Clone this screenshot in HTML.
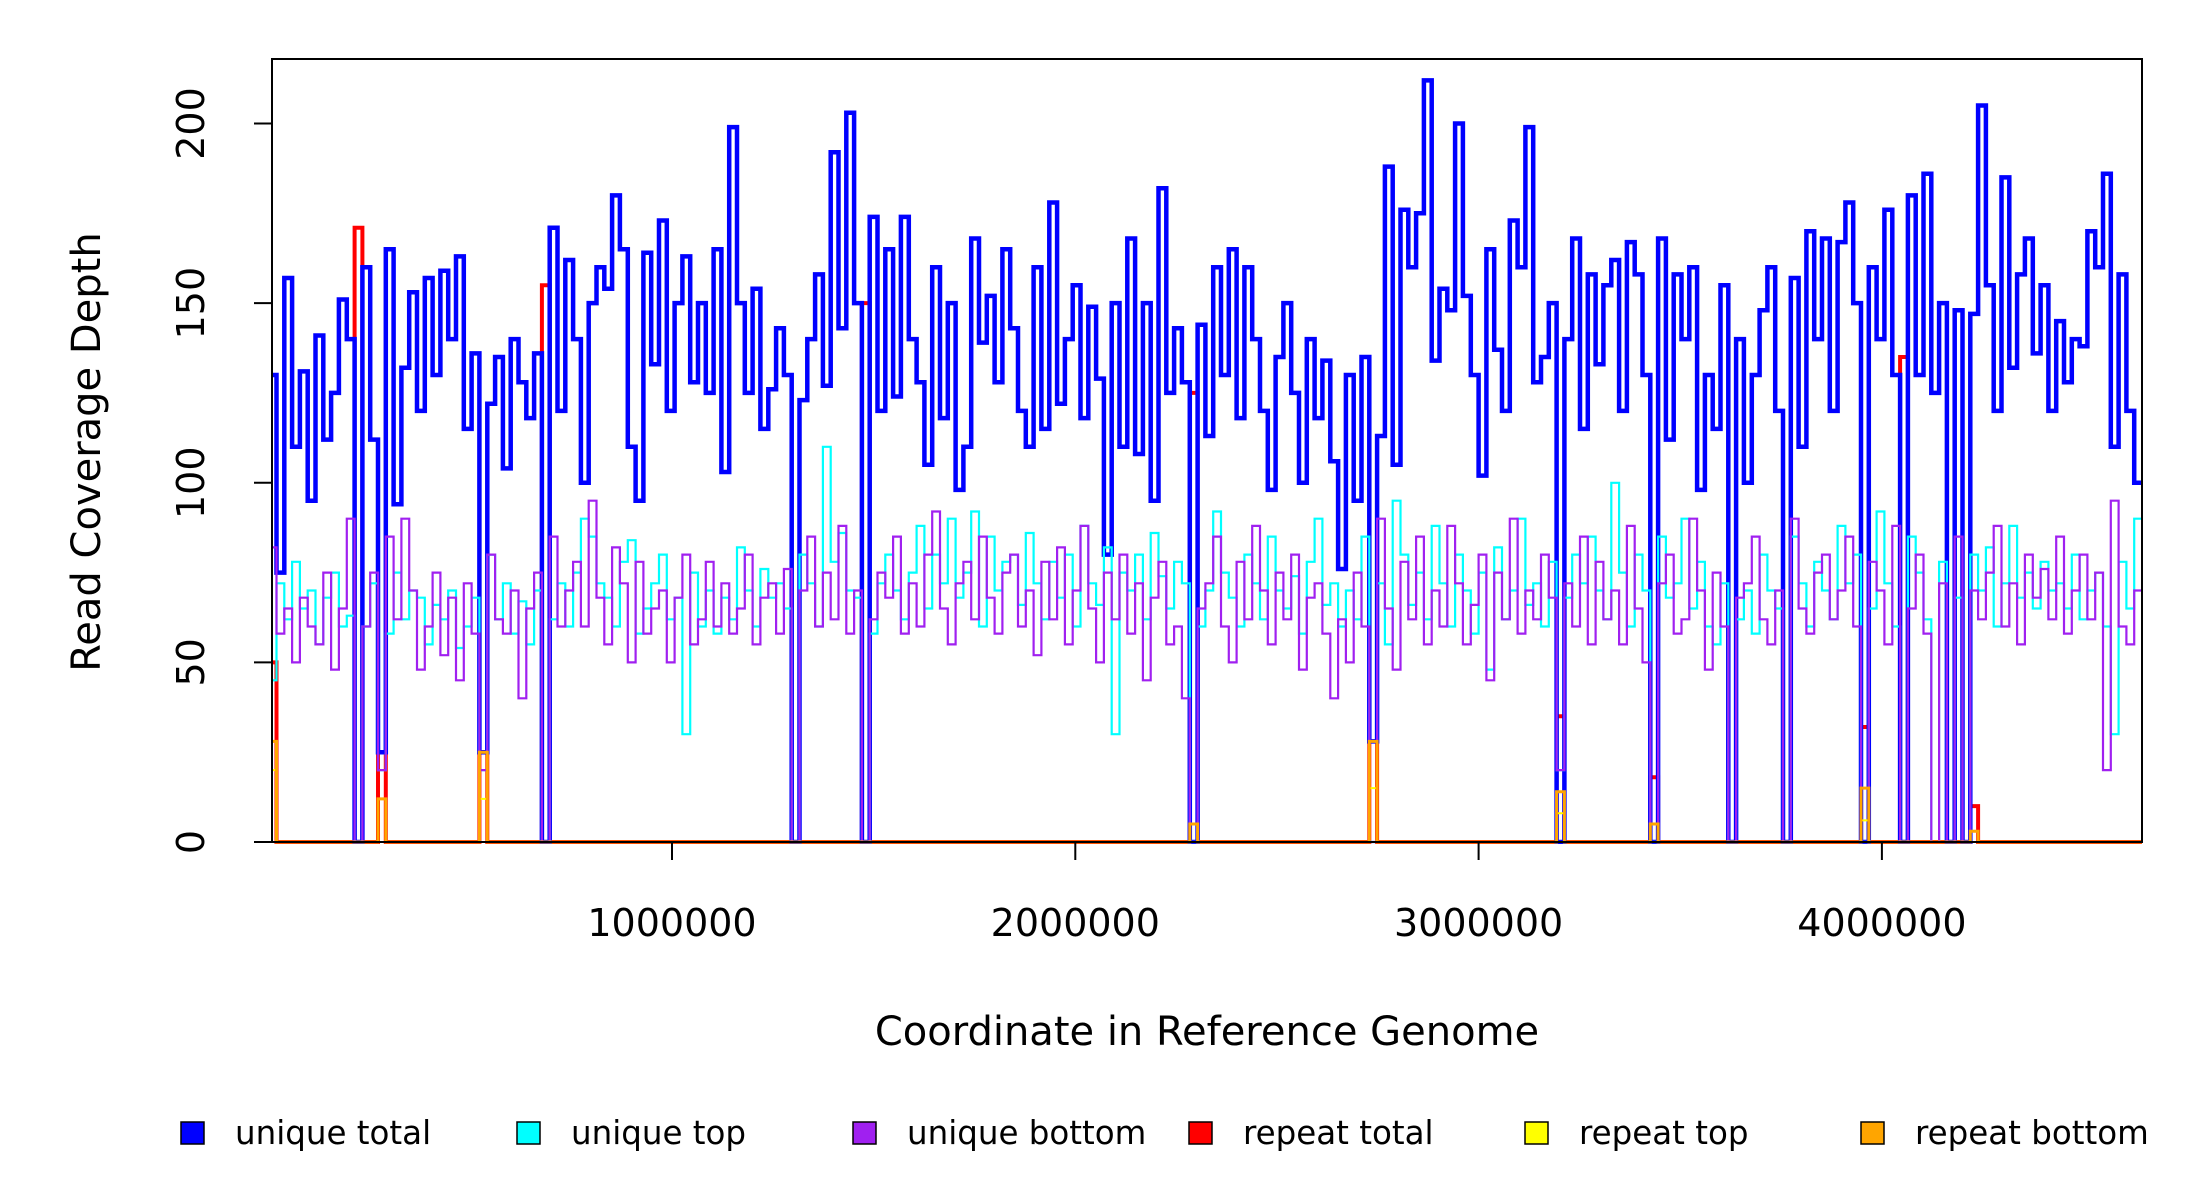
<!DOCTYPE html>
<html><head><meta charset="utf-8"><style>
html,body{margin:0;padding:0;background:#fff;}
svg{display:block;font-family:"DejaVu Sans","Liberation Sans",sans-serif;}
</style></head><body>
<svg id="chart" width="2200" height="1200" viewBox="0 0 2200 1200" xmlns="http://www.w3.org/2000/svg">
<g id="series"></g>
<rect x="272" y="59" width="1870" height="783" fill="none" stroke="#000" stroke-width="2"/>
<g id="axes"></g>
<text x="1207" y="1045" font-size="40" text-anchor="middle">Coordinate in Reference Genome</text>
<text transform="translate(100,452) rotate(-90)" font-size="40" text-anchor="middle">Read Coverage Depth</text>
<g id="legend"></g>
</svg>
<script>
const genomeLength = 4645000;
const binCount = 240;
const uniqueTotal = [130,75,157,110,131,95,141,112,125,151,
140,0,160,112,25,165,94,132,153,120,
157,130,159,140,163,115,136,25,122,135,
104,140,128,118,136,0,171,120,162,140,
100,150,160,154,180,165,110,95,164,133,
173,120,150,163,128,150,125,165,103,199,
150,125,154,115,126,143,130,0,123,140,
158,127,192,143,203,150,0,174,120,165,
124,174,140,128,105,160,118,150,98,110,
168,139,152,128,165,143,120,110,160,115,
178,122,140,155,118,149,129,80,150,110,
168,108,150,95,182,125,143,128,0,144,
113,160,130,165,118,160,140,120,98,135,
150,125,100,140,118,134,106,76,130,95,
135,28,113,188,105,176,160,175,212,134,
154,148,200,152,130,102,165,137,120,173,
160,199,128,135,150,0,140,168,115,158,
133,155,162,120,167,158,130,0,168,112,
158,140,160,98,130,115,155,0,140,100,
130,148,160,120,0,157,110,170,140,168,
120,167,178,150,0,160,140,176,130,0,
180,130,186,125,150,0,148,0,147,205,
155,120,185,132,158,168,136,155,120,145,
128,140,138,170,160,186,110,158,120,100];
const uniqueTop = [45,72,62,78,65,70,55,68,75,60,63,0,60,72,20,58,75,62,70,68,
55,66,62,70,54,60,68,20,80,62,72,58,67,55,70,0,62,72,60,75,
90,85,72,68,60,78,84,58,65,72,80,62,68,30,75,60,70,58,68,62,
82,70,60,76,68,72,65,0,80,72,60,110,78,86,70,68,0,58,72,80,
70,62,75,88,65,80,72,90,68,75,92,60,85,70,78,80,66,86,72,62,
78,68,80,60,88,72,66,82,30,75,70,80,62,86,74,65,78,72,0,60,
70,92,75,68,60,80,72,62,85,70,65,74,58,78,90,66,72,60,70,62,
85,0,72,55,95,80,66,75,62,88,72,60,80,70,58,75,48,82,62,70,
90,66,72,60,78,20,68,80,72,85,
70,62,100,75,60,80,70,0,85,68,72,90,65,78,60,55,72,0,62,70,
58,80,70,65,0,85,72,60,78,70,62,88,72,80,0,65,92,72,60,0,
85,75,62,0,78,0,68,0,80,70,82,60,72,88,68,75,65,78,70,72,65,80,62,70,75,60,30,78,65,90];
const uniqueBottom = [82,58,65,50,68,60,55,75,48,65,90,0,60,75,20,85,62,90,70,48,
60,75,52,68,45,72,58,20,80,62,58,70,40,65,75,0,85,60,70,78,
60,95,68,55,82,72,50,78,58,65,70,50,68,80,55,62,78,60,72,58,
65,80,55,68,72,58,76,0,70,85,60,75,62,88,58,70,0,62,75,68,
85,58,72,60,80,92,65,55,72,78,62,85,68,58,75,80,60,70,52,78,
62,82,55,70,88,65,50,75,62,80,58,72,45,68,78,55,60,40,0,65,
72,85,60,50,78,62,88,70,55,75,62,80,48,68,72,58,40,62,50,75,
60,0,90,65,48,78,62,85,55,70,
60,88,72,55,66,80,45,75,62,90,58,70,62,80,68,20,72,60,85,55,
78,62,70,55,88,65,50,0,72,80,58,62,90,70,48,75,60,0,68,72,
85,62,55,70,0,90,65,58,75,80,62,70,85,60,0,78,70,55,88,0,
65,80,58,0,72,0,85,0,70,62,75,88,60,72,55,80,68,76,62,85,58,70,80,62,75,20,95,60,55,70];
// sparse repeat series: [bin index, value]
const repeatTotalBins = [0,11,14,27,35,76,118,141,165,177,204,209,218];
const repeatTotalVals = [50,171,25,25,155,150,125,28,35,18,32,135,10];
const repeatTopBins = [0,27,141,165,204];
const repeatTopVals = [20,12,15,8,6];
const repeatBottomBins = [0,14,27,118,141,165,177,204,218];
const repeatBottomVals = [28,12,25,5,28,14,5,15,3];
const xTicks = [1000000,2000000,3000000,4000000];
const yTicks = [0,50,100,150,200];
const legendLabels = ["unique total","unique top","unique bottom","repeat total","repeat top","repeat bottom"];
const legendColors = ["#0000ff","#00ffff","#a020f0","#ff0000","#ffff00","#ffa500"];

const XORIG=268.7, PXPERM=403.3, Y0=842, Y200=123.5;
function xs(v){return XORIG+(v/1000000)*PXPERM;}
function ys(v){return Y0-(v/200)*(Y0-Y200);}
const NS="http://www.w3.org/2000/svg";
const binW = genomeLength/binCount;
function expand(bins,vals){const a=new Array(binCount).fill(0);bins.forEach((b,i)=>{a[b]=vals[i];});return a;}
function stepPath(arr){
  let d="M"+xs(0).toFixed(1)+","+ys(arr[0]).toFixed(1);
  for(let i=0;i<arr.length;i++){
    const xa=xs(i*binW), xb=xs((i+1)*binW);
    d+=" L"+xa.toFixed(1)+","+ys(arr[i]).toFixed(1)+" L"+xb.toFixed(1)+","+ys(arr[i]).toFixed(1);
  }
  return d;
}
const seriesG=document.getElementById('series');
const clip=document.createElementNS(NS,'clipPath');clip.setAttribute('id','pc');
const cr=document.createElementNS(NS,'rect');cr.setAttribute('x',272);cr.setAttribute('y',59);cr.setAttribute('width',1870);cr.setAttribute('height',785);
clip.appendChild(cr);seriesG.appendChild(clip);
seriesG.setAttribute('clip-path','url(#pc)');
const seriesDefs=[
 [expand(repeatTotalBins,repeatTotalVals),"#ff0000",4,"repeat-total-line"],
 [uniqueTotal,"#0000ff",4.5,"unique-total-line"],
 [uniqueTop,"#00ffff",2.2,"unique-top-line"],
 [uniqueBottom,"#a020f0",2.2,"unique-bottom-line"],
 [expand(repeatTopBins,repeatTopVals),"#ffff00",2,"repeat-top-line"],
 [expand(repeatBottomBins,repeatBottomVals),"#ffa500",3,"repeat-bottom-line"]
];
seriesDefs.forEach(s=>{
  const p=document.createElementNS(NS,'path');
  p.setAttribute('d',stepPath(s[0]));
  p.setAttribute('fill','none');p.setAttribute('stroke',s[1]);p.setAttribute('stroke-width',s[2]);
  
  
  seriesG.appendChild(p);
});
const axG=document.getElementById('axes');
function line(x1,y1,x2,y2){const l=document.createElementNS(NS,'line');l.setAttribute('x1',x1);l.setAttribute('y1',y1);l.setAttribute('x2',x2);l.setAttribute('y2',y2);l.setAttribute('stroke','#000');l.setAttribute('stroke-width',2);axG.appendChild(l);return l;}
yTicks.forEach(v=>{
  const l=line(254,ys(v),272,ys(v));
  
  
  const t=document.createElementNS(NS,'text');
  t.setAttribute('transform','translate(204,'+ys(v)+') rotate(-90)');
  t.setAttribute('font-size','38');t.setAttribute('text-anchor','middle');
  t.textContent=v;
  
  
  axG.appendChild(t);
});
xTicks.forEach(v=>{
  const l=line(xs(v),842,xs(v),860);
  
  
  const t=document.createElementNS(NS,'text');
  t.setAttribute('x',xs(v));t.setAttribute('y',936);
  t.setAttribute('font-size','38');t.setAttribute('text-anchor','middle');
  t.textContent=v;
  
  
  axG.appendChild(t);
});
const lg=document.getElementById('legend');
legendLabels.forEach((lab,i)=>{
  const x=181+i*336;
  const r=document.createElementNS(NS,'rect');
  r.setAttribute('x',x);r.setAttribute('y',1122);r.setAttribute('width',23);r.setAttribute('height',22);
  r.setAttribute('fill',legendColors[i]);r.setAttribute('stroke','#000');r.setAttribute('stroke-width',1.5);
  
  
  lg.appendChild(r);
  const t=document.createElementNS(NS,'text');
  t.setAttribute('x',x+54);t.setAttribute('y',1144);t.setAttribute('font-size','32.5');
  t.textContent=lab;
  
  
  lg.appendChild(t);
});
</script>
</body></html>
